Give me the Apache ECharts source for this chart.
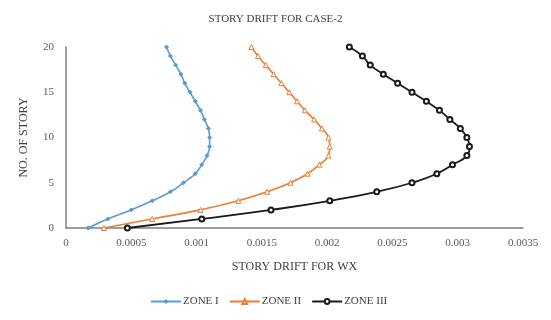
<!DOCTYPE html>
<html>
<head>
<meta charset="utf-8">
<script src="https://cdn.jsdelivr.net/npm/echarts@6/dist/echarts.min.js"></script>
<style>html,body{margin:0;padding:0;background:#fff}#c{width:551px;height:320px}</style>
</head>
<body>
<div id="c"></div>
<script>
var stories = [0,1,2,3,4,5,6,7,8,9,10,11,12,13,14,15,16,17,18,19,20];
var zone1 = [0.00017,0.00032,0.00050,0.00066,0.00080,0.00090,0.00099,0.00104,0.00108,0.00110,0.00110,0.00109,0.00106,0.00103,0.00099,0.00095,0.00091,0.00088,0.00084,0.00080,0.00077];
var zone2 = [0.00029,0.00066,0.00103,0.00132,0.00154,0.00172,0.00185,0.00194,0.00201,0.00202,0.00201,0.00196,0.00190,0.00183,0.00177,0.00171,0.00165,0.00159,0.00153,0.00147,0.00142];
var zone3 = [0.00047,0.00104,0.00157,0.00202,0.00238,0.00265,0.00284,0.00296,0.00307,0.00309,0.00307,0.00302,0.00294,0.00286,0.00276,0.00265,0.00254,0.00243,0.00233,0.00227,0.00217];
var xTicks = [0,0.0005,0.001,0.0015,0.002,0.0025,0.003,0.0035];
var yTicks = [0,5,10,15,20];
var names = ['ZONE I','ZONE II','ZONE III'];

function pairs(arr){ return arr.map(function(v,i){ return [v, stories[i]]; }); }
var font = 'Liberation Serif';
var chart = echarts.init(document.getElementById('c'));
chart.setOption({
  animation:false,
  textStyle:{fontFamily:font},
  title:{text:'STORY DRIFT FOR CASE-2',left:'center',top:9,
    textStyle:{fontFamily:font,fontSize:11,fontWeight:'normal',color:'#404040'}},
  grid:{left:66,right:28,top:47,bottom:92},
  xAxis:{type:'value',min:0,max:0.0035,interval:0.0005,
    name:'STORY DRIFT FOR WX',nameLocation:'middle',nameGap:33,
    nameTextStyle:{fontFamily:font,fontSize:12,color:'#404040'},
    axisLine:{show:true,lineStyle:{color:'#7f7f7f',width:1.5}},
    axisTick:{show:false},splitLine:{show:false},
    axisLabel:{fontFamily:font,fontSize:11,color:'#595959',margin:10,
      formatter:function(v){ var s = xTicks.find(function(t){return Math.abs(t-v)<1e-9;}); return s===undefined?'':String(s); }}},
  yAxis:{type:'value',min:0,max:20,interval:5,
    name:'NO. OF STORY',nameLocation:'middle',nameGap:36,
    nameTextStyle:{fontFamily:font,fontSize:12,color:'#404040'},
    axisLine:{show:true,lineStyle:{color:'#7f7f7f',width:1.5}},
    axisTick:{show:false},splitLine:{show:false},
    axisLabel:{fontFamily:font,fontSize:11,color:'#595959',margin:12,
      formatter:function(v){ return yTicks.indexOf(v)>=0?String(v):''; }}},
  legend:{bottom:8,left:145,itemWidth:30,itemHeight:6,itemGap:10,
    textStyle:{fontFamily:font,fontSize:11,color:'#404040',padding:[0,0,0,-3]},data:names},
  series:[
    {name:names[0],type:'line',smooth:true,data:pairs(zone1),
      symbol:'diamond',symbolSize:4,
      lineStyle:{color:'#5B9BD5',width:1.6},
      itemStyle:{color:'#5B9BD5',borderColor:'#5B9BD5'}},
    {name:names[1],type:'line',smooth:true,data:pairs(zone2),
      symbol:'triangle',symbolSize:5,
      lineStyle:{color:'#ED7D31',width:1.6},
      itemStyle:{color:'#fff',borderColor:'#ED7D31',borderWidth:1}},
    {name:names[2],type:'line',smooth:true,data:pairs(zone3),
      symbol:'emptyCircle',symbolSize:5,
      lineStyle:{color:'#1a1a1a',width:1.8},
      itemStyle:{color:'#1a1a1a',borderColor:'#1a1a1a',borderWidth:1}}
  ]
});
</script>
</body>
</html>
